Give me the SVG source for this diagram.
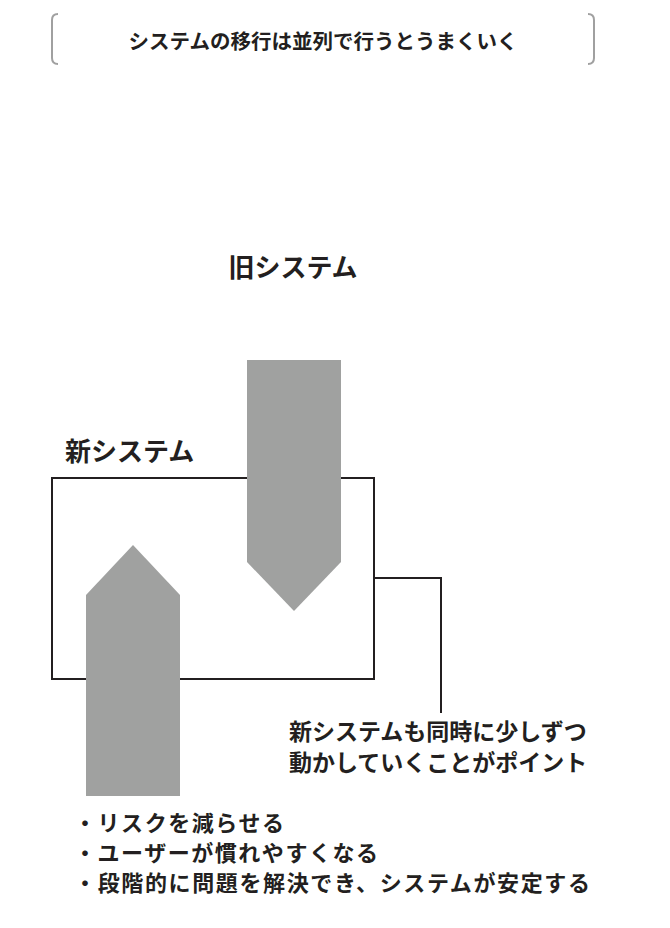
<svg xmlns="http://www.w3.org/2000/svg" width="670" height="928" viewBox="0 0 670 928">
<style>
text{font-family:"Noto Sans CJK JP","Noto Sans CJK SC",sans-serif;font-weight:bold;fill:#231f20}
.br{fill:none;stroke:#a0a0a0;stroke-width:2}
.arr{fill:#a0a1a0}
.ln{fill:none;stroke:#231f20;stroke-width:2}
</style>
<rect width="670" height="928" fill="#fff"/>
<g id="header">
<path class="br" d="M58,14 Q52,14 52,20 L52,58 Q52,64 58,64"/>
<path class="br" d="M588,14 Q594,14 594,20 L594,58 Q594,64 588,64"/>
<text x="323" y="49" font-size="20.5" text-anchor="middle">システムの移行は並列で行うとうまくいく</text>
</g>
<g id="old-label"><text x="293" y="277" font-size="26" text-anchor="middle">旧システム</text></g>
<g id="new-system">
<text x="65" y="461" font-size="26">新システム</text>
<rect class="ln" x="52" y="478" width="322" height="201"/>
</g>
<g id="old-arrow"><polygon class="arr" points="247,360 341,360 341,562 294,611 247,562"/></g>
<g id="new-arrow"><polygon class="arr" points="133,545 180,595 180,796 86,796 86,595"/></g>
<g id="connectors"><polyline class="ln" points="374,578 441,578 441,713"/></g>
<g id="callout">
<text x="289" y="740" font-size="23">新システムも同時に少しずつ</text>
<text x="289" y="771" font-size="23">動かしていくことがポイント</text>
</g>
<g id="bullets">
<text x="74" y="831" font-size="22" textLength="210" lengthAdjust="spacing">・リスクを減らせる</text>
<text x="74" y="861" font-size="22" textLength="304" lengthAdjust="spacing">・ユーザーが慣れやすくなる</text>
<text x="74" y="891" font-size="22" textLength="516" lengthAdjust="spacing">・段階的に問題を解決でき、システムが安定する</text>
</g>
</svg>
